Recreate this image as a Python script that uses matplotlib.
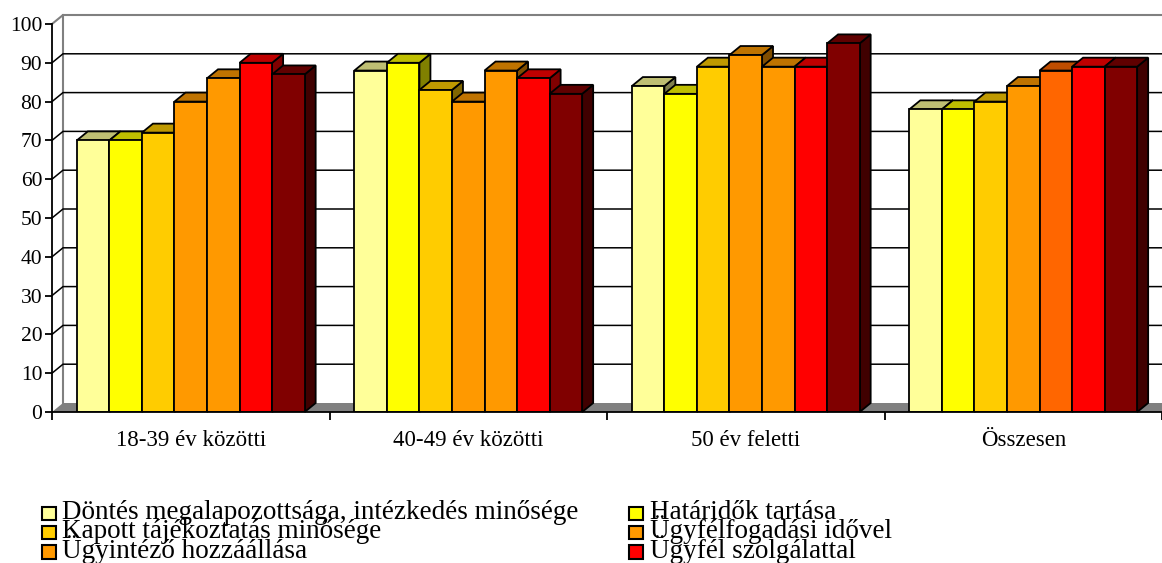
import matplotlib
matplotlib.use("Agg")
import matplotlib.pyplot as plt
from matplotlib.patches import Polygon, Rectangle
import numpy as np

# ---------------- data ----------------
categories = ["18-39 év közötti", "40-49 év közötti", "50 év feletti", "Összesen"]
series_names = [
    "Döntés megalapozottsága, intézkedés minősége",
    "Határidők tartása",
    "Kapott tájékoztatás minősége",
    "Ügyfélfogadási idővel",
    "Ügyintéző hozzáállása",
    "Ügyfél szolgálattal",
    "",  # 7th series: its legend entry is cut off in the reference
]
s1 = [70, 88, 84, 78]
s2 = [70, 90, 82, 78]
s3 = [72, 83, 89, 80]
s4 = [80, 80, 92, 84]
s5 = [86, 88, 89, 88]
s6 = [90, 86, 89, 89]
s7 = [87, 82, 95, 89]
series_values = [s1, s2, s3, s4, s5, s6, s7]
y_ticks = list(range(0, 101, 10))

# ---------------- style ----------------
colors = ["#FFFF99", "#FFFF00", "#FFCC00", "#FF9900", "#FF9900", "#FF0000", "#800000"]
point_colors = {(4, 3): "#FF6600"}  # (series, category) override
FONT = ["Liberation Serif", "DejaVu Serif"]
plt.rcParams["font.family"] = FONT

W, H = 1162, 563
fig = plt.figure(figsize=(W / 100, H / 100), dpi=100)
ax_l, ax_r, ax_t, ax_b = 52, 1162, 24, 412
ax = fig.add_axes([ax_l / W, 1 - ax_b / H, (ax_r - ax_l) / W, (ax_b - ax_t) / H])
ncat = len(categories)
ax.set_xlim(0, ncat)
ax.set_ylim(0, 100)

# depth offsets (pixels -> data units)
dx = 11 / ((ax_r - ax_l) / ncat)
dy = 9 / ((ax_b - ax_t) / 100)

def shade(c, f):
    r, g, b = matplotlib.colors.to_rgb(c)
    return (r * f, g * f, b * f)

# floor
ax.add_patch(Polygon([(0, 0), (dx, dy), (ncat + dx, dy), (ncat, 0)], closed=True,
                     facecolor="#808080", edgecolor="none", zorder=1, clip_on=False))
# walls borders
ax.plot([dx, dx], [dy, 100 + dy], color="#808080", lw=1.5, zorder=1.5, clip_on=False)
ax.plot([0, dx, ncat + dx], [100, 100 + dy, 100 + dy], color="#808080", lw=1.5,
        zorder=1.5, clip_on=False)
# gridlines
for v in y_ticks[1:-1]:
    ax.plot([0, dx, ncat + dx], [v, v + dy, v + dy], color="black", lw=1.1,
            zorder=1.6, clip_on=False)

# bars
nser = len(series_values)
group_w = 0.821
bw = group_w / nser
start = (1 - group_w) / 2
for ci in range(ncat):
    for si in range(nser):
        h = series_values[si][ci]
        c = point_colors.get((si, ci), colors[si])
        x0 = ci + start + si * bw
        x1 = x0 + bw
        z = 3 + si * 0.1
        side = Polygon([(x1, 0), (x1 + dx, dy), (x1 + dx, h + dy), (x1, h)], closed=True,
                       facecolor=shade(c, 0.5), edgecolor="black", lw=1.3, zorder=z,
                       clip_on=False, joinstyle="miter")
        top = Polygon([(x0, h), (x1, h), (x1 + dx, h + dy), (x0 + dx, h + dy)], closed=True,
                      facecolor=shade(c, 0.75), edgecolor="black", lw=1.3, zorder=z,
                      clip_on=False, joinstyle="miter")
        ax.add_patch(side)
        ax.add_patch(top)
        ax.bar(x0, h, width=bw, align="edge", color=c, edgecolor="black", lw=1.3,
               zorder=z + 0.05)

# axes
for sp in ["top", "right"]:
    ax.spines[sp].set_visible(False)
ax.spines["left"].set_color("black")
ax.spines["left"].set_linewidth(1.3)
ax.spines["bottom"].set_color("black")
ax.spines["bottom"].set_linewidth(1.3)
ax.spines["bottom"].set_zorder(10)
ax.set_yticks(y_ticks)
ax.tick_params(axis="y", length=5, width=1.3, direction="out", labelsize=15.5, pad=2,
               colors="black")
ax.set_xticks([i + 0.5 for i in range(ncat)])
ax.set_xticklabels(categories)
ax.set_xticks(range(ncat + 1), minor=True)
ax.tick_params(axis="x", which="major", length=0, labelsize=16.5, pad=13)
ax.tick_params(axis="x", which="minor", length=6, width=1.3, direction="out")
ax.set_facecolor("none")

# legend (two columns, row-major; fourth row falls outside the figure)
leg_x = [42, 629]
leg_base0 = 520
leg_dy = 19.3
msz = 13.5
for i, name in enumerate(series_names):
    if not name:
        continue
    r, col = divmod(i, 2)
    yb = leg_base0 + r * leg_dy
    fig.patches.append(Rectangle((leg_x[col] / W, 1 - yb / H), msz / W, msz / H,
                                 transform=fig.transFigure, facecolor=colors[i],
                                 edgecolor="black", lw=1.5))
    fig.text((leg_x[col] + 20.5) / W, 1 - (yb - 1) / H, name, fontsize=19.5,
             va="baseline", ha="left")

fig.savefig("out.png", dpi=100)
